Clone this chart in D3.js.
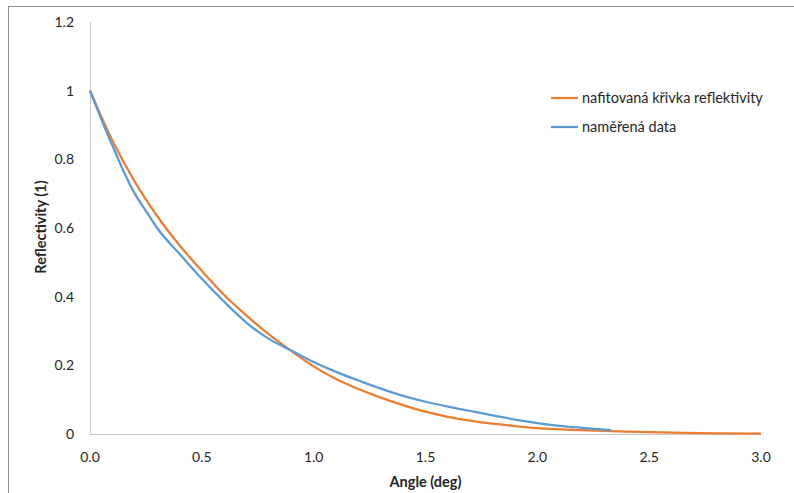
<!DOCTYPE html>
<html>
<head>
<meta charset="utf-8">
<script src="https://cdn.jsdelivr.net/npm/d3@7"></script>
<style>
  body { margin: 0; background: #fff; }
  svg text { font-family: Lato, "Open Sans", sans-serif; fill: #262626; }
</style>
</head>
<body>
<div id="chart"></div>
<script>
// fitted curve (orange)
const fitAngle = [0, 0.1, 0.2, 0.3, 0.4, 0.5, 0.6, 0.7, 0.8, 0.9, 1.0, 1.1, 1.2, 1.3, 1.4, 1.5, 1.6, 1.7, 1.8, 1.9, 2.0, 2.2, 2.4, 2.6, 2.8, 3.0];
const fitRefl = [1.0, 0.855, 0.735, 0.635, 0.55, 0.475, 0.405, 0.345, 0.29, 0.242, 0.197, 0.16, 0.131, 0.106, 0.084, 0.065, 0.05, 0.039, 0.03, 0.023, 0.017, 0.011, 0.007, 0.004, 0.002, 0.001];

// measured data (blue)
const measAngle = [0, 0.1, 0.2, 0.25, 0.3, 0.4, 0.5, 0.6, 0.7, 0.8, 0.9, 1.0, 1.1, 1.2, 1.3, 1.4, 1.5, 1.6, 1.7, 1.8, 1.9, 2.0, 2.1, 2.2, 2.33];
const measRefl = [1.0, 0.84, 0.70, 0.65, 0.60, 0.525, 0.452, 0.385, 0.324, 0.277, 0.243, 0.21, 0.181, 0.156, 0.132, 0.111, 0.094, 0.08, 0.067, 0.054, 0.042, 0.032, 0.024, 0.018, 0.011];

const xTicks = [0, 0.5, 1.0, 1.5, 2.0, 2.5, 3.0];
const yTicks = [0, 0.2, 0.4, 0.6, 0.8, 1, 1.2];

const seriesNames = ["nafitovaná křivka reflektivity", "naměřená data"];
const colors = ["#ED7D31", "#5B9BD5"];

const W = 794, H = 493;

const svg = d3.select("#chart").append("svg")
  .attr("width", W)
  .attr("height", H);

// chart frame (runs off the right/bottom edge)
svg.append("rect")
  .attr("x", 8.5).attr("y", 6.5)
  .attr("width", 820).attr("height", 520)
  .attr("fill", "none")
  .attr("stroke", "#8c8c8c");

const x = d3.scaleLinear().domain([0, 3]).range([90, 761]);
const y = d3.scaleLinear().domain([0, 1.2]).range([434, 22]);

// axis lines
svg.append("line")
  .attr("x1", x(0) + 0.5).attr("x2", x(0) + 0.5)
  .attr("y1", y(1.2)).attr("y2", y(0))
  .attr("stroke", "#c8c8c8");
svg.append("line")
  .attr("x1", x(0)).attr("x2", x(3))
  .attr("y1", y(0) + 0.5).attr("y2", y(0) + 0.5)
  .attr("stroke", "#c8c8c8");

// tick labels
svg.append("g").selectAll("text")
  .data(yTicks).enter().append("text")
  .attr("x", 74)
  .attr("y", (d) => y(d))
  .attr("dy", "0.35em")
  .attr("text-anchor", "end")
  .style("font-size", "14px")
  .text((d) => d);

svg.append("g").selectAll("text")
  .data(xTicks).enter().append("text")
  .attr("x", (d) => x(d))
  .attr("y", 457)
  .attr("dy", "0.35em")
  .attr("text-anchor", "middle")
  .style("font-size", "14px")
  .text((d) => d.toFixed(1));

// axis titles
svg.append("text")
  .attr("x", x(1.5))
  .attr("y", 482)
  .attr("dy", "0.35em")
  .attr("text-anchor", "middle")
  .style("font-size", "14.5px")
  .style("font-weight", "bold")
  .text("Angle (deg)");

svg.append("text")
  .attr("transform", "translate(41,227) rotate(-90)")
  .attr("dy", "0.35em")
  .attr("text-anchor", "middle")
  .style("font-size", "14.5px")
  .style("font-weight", "bold")
  .text("Reflectivity (1)");

// lines
const line = d3.line()
  .x((d) => x(d[0]))
  .y((d) => y(d[1]))
  .curve(d3.curveMonotoneX);

const fitData = fitAngle.map((a, i) => [a, fitRefl[i]]);
const measData = measAngle.map((a, i) => [a, measRefl[i]]);

svg.append("path")
  .datum(fitData)
  .attr("fill", "none")
  .attr("stroke", colors[0])
  .attr("stroke-width", 2.25)
  .attr("d", line);

svg.append("path")
  .datum(measData)
  .attr("fill", "none")
  .attr("stroke", colors[1])
  .attr("stroke-width", 2.25)
  .attr("d", line);

// legend
const legend = svg.append("g");
seriesNames.forEach((name, i) => {
  const ly = 98 + i * 29;
  legend.append("line")
    .attr("x1", 551).attr("x2", 578)
    .attr("y1", ly).attr("y2", ly)
    .attr("stroke", colors[i])
    .attr("stroke-width", 2.25);
  legend.append("text")
    .attr("x", 582)
    .attr("y", ly)
    .attr("dy", "0.35em")
    .style("font-size", "14.5px")
    .text(name);
});
</script>
</body>
</html>
